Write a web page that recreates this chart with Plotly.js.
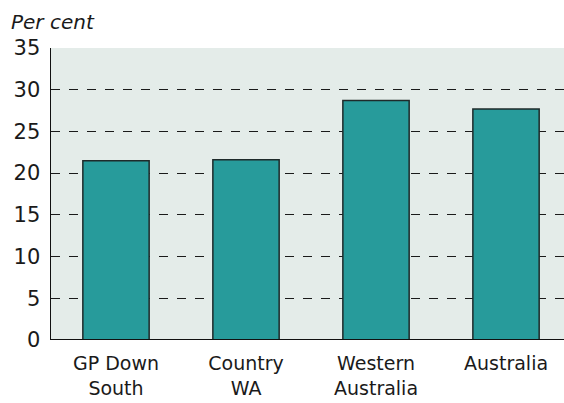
<!DOCTYPE html>
<html><head><meta charset="utf-8">
<script src="https://cdn.plot.ly/plotly-3.0.1.min.js"></script>
<style>html,body{margin:0;padding:0;background:#fff}</style>
</head><body>
<div id="chart" style="width:564px;height:403px"></div>
<script>
const categories = ["GP Down<br>South", "Country<br>WA", "Western<br>Australia", "Australia"];
const values = [21.5, 21.6, 28.7, 27.7];
const yTicks = [0, 5, 10, 15, 20, 25, 30, 35];

const trace = {
  type: "bar",
  x: [0, 1, 2, 3],
  y: values,
  width: 0.51,
  marker: {color: "#279b9b", line: {color: "#1e2a2a", width: 1.5}},
  hoverinfo: "none"
};

const layout = {
  width: 564, height: 403,
  margin: {l: 51, r: 0, t: 48, b: 63},
  paper_bgcolor: "#ffffff",
  plot_bgcolor: "#e4ece9",
  showlegend: false,
  font: {family: "DejaVu Sans", size: 19, color: "#1a1a1a"},
  xaxis: {
    range: [-0.5, 3.446],
    tickmode: "array",
    tickvals: [0, 1, 2, 3],
    ticktext: categories,
    showgrid: false,
    zeroline: false,
    showline: false,
    ticks: "",
    ticklabelstandoff: 10,
    fixedrange: true,
    tickfont: {family: "DejaVu Sans", size: 19, color: "#1a1a1a"}
  },
  yaxis: {
    range: [0, 35],
    tickmode: "array",
    tickvals: yTicks,
    showgrid: true,
    gridcolor: "#1a1a1a",
    griddash: "dash",
    gridwidth: 1.2,
    zeroline: false,
    showline: true,
    linecolor: "#111",
    linewidth: 1.5,
    ticks: "",
    ticklabelstandoff: 5,
    tickfont: {family: "DejaVu Sans", size: 21, color: "#1a1a1a"},
    fixedrange: true
  },
  shapes: [
    {type: "line", xref: "paper", yref: "y", x0: 0, x1: 1, y0: 0, y1: 0,
     line: {color: "#111", width: 2}}
  ],
  annotations: [
    {text: "<i>Per cent</i>", xref: "paper", yref: "paper", x: -0.082, y: 1.0,
     xanchor: "left", yanchor: "bottom", yshift: 12, showarrow: false,
     font: {family: "DejaVu Sans", size: 20, color: "#1a1a1a"}}
  ]
};

Plotly.newPlot("chart", [trace], layout, {displayModeBar: false, staticPlot: true});
</script>
</body></html>
